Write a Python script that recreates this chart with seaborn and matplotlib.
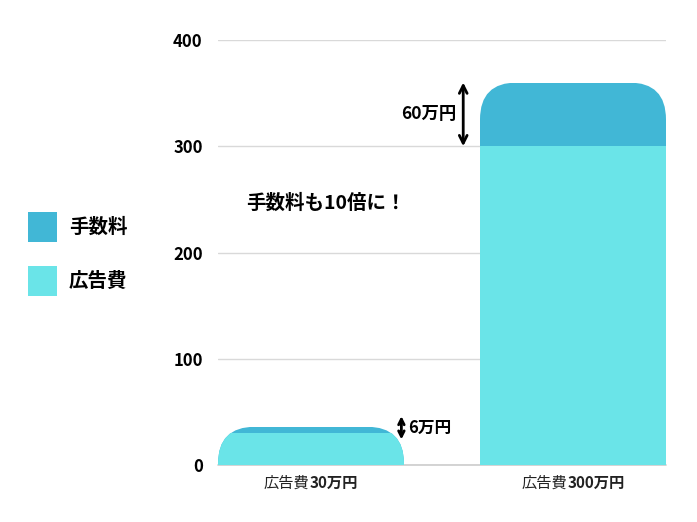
import matplotlib
matplotlib.use("Agg")
import matplotlib.pyplot as plt
import seaborn as sns
from matplotlib.patches import FancyBboxPatch
from matplotlib.offsetbox import TextArea, HPacker, AnnotationBbox

# data
categories = ["広告費30万円", "広告費300万円"]
ad_cost = [30, 300]
fee = [6, 60]
fee_labels = ["6万円", "60万円"]
yticks = [0, 100, 200, 300, 400]

total = [a + f for a, f in zip(ad_cost, fee)]

color_fee = "#41B7D6"
color_ad = "#6AE4E8"

sns.set_style("white")
plt.rcParams["font.family"] = ["Noto Sans CJK JP", "DejaVu Sans"]
plt.rcParams["text.color"] = "black"

fig = plt.figure(figsize=(6.97, 5.22), dpi=100)
ax = fig.add_axes([218 / 697, 1 - 465 / 522, 448 / 697, 425 / 522])

# 手数料 = 合計の棒、その上に広告費の棒を重ねる
sns.barplot(x=categories, y=total, color=color_fee, saturation=1, width=0.71,
            linewidth=0, edgecolor="none", label="手数料", ax=ax, zorder=2)
sns.barplot(x=categories, y=ad_cost, color=color_ad, saturation=1, width=0.71,
            linewidth=0, edgecolor="none", label="広告費", ax=ax, zorder=3)

ax.set_xlim(-0.355, 1.355)
ax.set_ylim(0, 400)
ax.set_yticks(yticks)
ax.yaxis.grid(True, color="#d9d9d9", linewidth=1, zorder=0)
ax.xaxis.grid(False)
ax.set_axisbelow(True)
ax.axhline(0, color="#cccccc", linewidth=1.2, zorder=1, clip_on=False)
sns.despine(ax=ax, left=True, bottom=True)
ax.tick_params(axis="both", length=0)
ax.tick_params(axis="y", pad=11, labelsize=12, labelcolor="black")
for t in ax.get_yticklabels():
    t.set_fontweight("bold")
ax.set_xticklabels([])
ax.set_xlabel("")
ax.set_ylabel("")

# x軸ラベル: 「広告費」は標準、金額は太字
for i, c in enumerate(categories):
    parts = HPacker(children=[
        TextArea(c[:3], textprops=dict(fontsize=11, color="#222222")),
        TextArea(c[3:], textprops=dict(fontsize=11, fontweight="bold", color="#222222")),
    ], sep=0, align="baseline")
    ab = AnnotationBbox(parts, (i, 0), xybox=(0, -13), xycoords="data",
                        boxcoords="offset points", frameon=False,
                        box_alignment=(0.5, 0.5), annotation_clip=False)
    ax.add_artist(ab)

# 棒の上の角を丸くする (クリップパス)
fig.canvas.draw()
px_x = ax.transData.transform((1, 0))[0] - ax.transData.transform((0, 0))[0]
px_y = ax.transData.transform((0, 1))[1] - ax.transData.transform((0, 0))[1]
r_px = 37
n = len(categories)
bars = ax.patches
for i in range(n):
    p_fee = bars[i]
    p_ad = bars[i + n]
    x0 = p_fee.get_x()
    w = p_fee.get_width()
    h = p_fee.get_height()
    extra = 100
    clip = FancyBboxPatch((x0, -extra), w, h + extra,
                          boxstyle=f"round,pad=0,rounding_size={r_px / px_x}",
                          mutation_aspect=px_x / px_y,
                          transform=ax.transData, facecolor="none", edgecolor="none")
    p_fee.set_clip_path(clip)
    p_ad.set_clip_path(clip)

# 凡例
handles, labels = ax.get_legend_handles_labels()
if ax.get_legend() is not None:
    ax.get_legend().remove()
fig.legend(handles, labels, loc="center left", bbox_to_anchor=(10 / 697, 1 - 254 / 522),
           frameon=False, prop={"size": 14, "weight": "bold"}, labelcolor="black",
           handlelength=1.54, handleheight=2.0, handletextpad=0.6, labelspacing=1.25)

# 注釈
ax.annotate("", xy=(1 - 0.419, ad_cost[1]), xytext=(1 - 0.419, total[1]),
            arrowprops=dict(arrowstyle="<->", color="black", lw=2,
                            shrinkA=0, shrinkB=0, mutation_scale=14))
ax.text(1 - 0.445, (ad_cost[1] + total[1]) / 2, fee_labels[1], ha="right", va="center",
        fontsize=12.5, fontweight="bold", color="black")

ax.annotate("", xy=(0.345, 24), xytext=(0.345, 46),
            arrowprops=dict(arrowstyle="<->", color="black", lw=2,
                            shrinkA=0, shrinkB=0, mutation_scale=10))
ax.text(0.37, 35, fee_labels[0], ha="left", va="center", fontsize=12,
        fontweight="bold", color="black")

ax.text(0.055, 246, "手数料も10倍に！", ha="center", va="center",
        fontsize=14, fontweight="bold", color="black")

fig.savefig("out.png", dpi=100)
